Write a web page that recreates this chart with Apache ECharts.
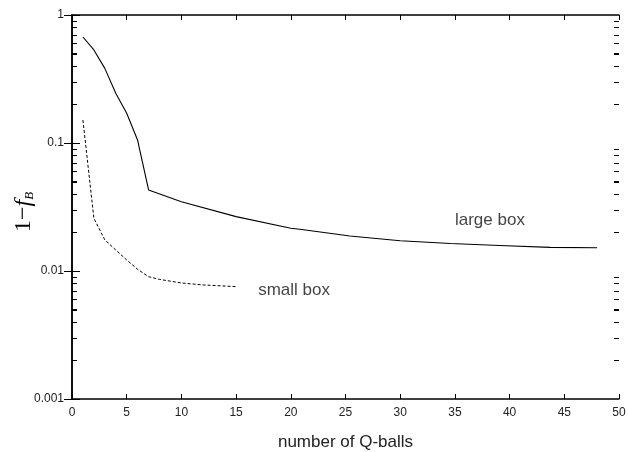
<!DOCTYPE html>
<html><head><meta charset="utf-8">
<script src="https://cdn.jsdelivr.net/npm/echarts@6/dist/echarts.min.js"></script>
<style>html,body{margin:0;padding:0;background:#fff;overflow:hidden}#c{width:628px;height:452px}</style>
</head><body><div id="c"></div>
<script>
var largeX = [1, 2, 3, 4, 5, 6, 7, 10, 15, 20, 21, 25.4, 30, 34.6, 39.1, 43.7, 48];
var largeY = [0.673, 0.533, 0.383, 0.245, 0.171, 0.105, 0.043, 0.0348, 0.0266, 0.0216, 0.0211, 0.01876, 0.01725, 0.0164, 0.0158, 0.0153, 0.0152];
var smallX = [1, 2, 3, 4, 5, 6, 7, 8, 10, 12, 15];
var smallY = [0.151, 0.0258, 0.0175, 0.0146, 0.0122, 0.0103, 0.00903, 0.0086, 0.00806, 0.00778, 0.00755];
var xTicks = [0, 5, 10, 15, 20, 25, 30, 35, 40, 45, 50];
var yTickLabels = ['0.001', '0.01', '0.1', '1'];
var yTickValues = [0.001, 0.01, 0.1, 1];
var minorTicks = [];
[0.001, 0.01, 0.1].forEach(function (d) { for (var k = 2; k <= 9; k++) minorTicks.push(d * k); });

function zip(a, b) { return a.map(function (v, i) { return [v, b[i]]; }); }

var GL = 72, GR = 9, GT = 15, GB = 53, W = 628, H = 452;
var chart = echarts.init(document.getElementById('c'));
var axisLine = { show: true, lineStyle: { color: '#000', width: 1.5 } };
var font = 'Liberation Sans, Arial, sans-serif';
function yFmt(v) {
  for (var i = 0; i < yTickValues.length; i++) if (Math.abs(Math.log10(v) - Math.log10(yTickValues[i])) < 1e-6) return yTickLabels[i];
  return '';
}
function minorAxis(pos) {
  return {
    type: 'log', logBase: 10, min: 0.001, max: 1, interval: 1, position: pos,
    axisLine: { show: false },
    axisTick: { show: true, inside: true, length: 5, customValues: minorTicks, lineStyle: { color: '#000', width: 1 } },
    axisLabel: { show: false }, splitLine: { show: false }
  };
}
chart.setOption({
  animation: false,
  grid: { left: GL, right: GR, top: GT, bottom: GB, show: false, containLabel: false, outerBoundsMode: 'none' },
  xAxis: [{
    type: 'value', min: 0, max: 50, interval: 5, position: 'bottom',
    axisLine: axisLine,
    axisTick: { show: true, inside: true, length: 5, lineStyle: { color: '#000', width: 1 } },
    axisLabel: { color: '#222', fontSize: 12, fontFamily: font, margin: 8 },
    splitLine: { show: false },
    name: 'number of Q-balls', nameLocation: 'middle', nameGap: 35,
    nameTextStyle: { color: '#222', fontSize: 17, fontFamily: font }
  }, {
    type: 'value', min: 0, max: 50, interval: 5, position: 'top',
    axisLine: axisLine,
    axisTick: { show: true, inside: true, length: 5, lineStyle: { color: '#000', width: 1 } },
    axisLabel: { show: false }, splitLine: { show: false }
  }],
  yAxis: [{
    type: 'log', logBase: 10, min: 0.001, max: 1, interval: 1, position: 'left',
    axisLine: axisLine,
    axisTick: { show: true, inside: true, length: 8, interval: 0, lineStyle: { color: '#000', width: 1 } },
    axisLabel: { color: '#222', fontSize: 12, fontFamily: font, margin: 8, interval: 0, formatter: yFmt },
    splitLine: { show: false }
  }, {
    type: 'log', logBase: 10, min: 0.001, max: 1, interval: 1, position: 'right',
    axisLine: axisLine,
    axisTick: { show: true, inside: true, length: 8, interval: 0, lineStyle: { color: '#000', width: 1 } },
    axisLabel: { show: false }, splitLine: { show: false }
  }, minorAxis('left'), minorAxis('right')],
  series: [{
    type: 'line', xAxisIndex: 0, yAxisIndex: 0, data: zip(largeX, largeY), showSymbol: false, symbol: 'none',
    lineStyle: { color: '#000', width: 1.1 }
  }, {
    type: 'line', xAxisIndex: 0, yAxisIndex: 0, data: zip(smallX, smallY), showSymbol: false, symbol: 'none',
    lineStyle: { color: '#000', width: 1, type: [3, 2] }
  }, {
    type: 'scatter', xAxisIndex: 0, yAxisIndex: 0, symbolSize: 0, silent: true,
    data: [{ value: [38.2, 0.025], label: { show: true, formatter: 'large box' } },
           { value: [20.3, 0.0071], label: { show: true, formatter: 'small box' } }],
    label: { show: true, position: 'inside', color: '#111', fontSize: 17, fontFamily: font }
  }]
});

var children = [];
var plotH = H - GT - GB;
minorTicks.forEach(function (v) {
  var py = chart.convertToPixel({ yAxisIndex: 0 }, v);
  if (!isFinite(py)) py = GT + (0 - Math.log10(v)) / 3 * plotH;
  var y = Math.round(py);
  children.push({ type: 'rect', z: 100, shape: { x: GL, y: y, width: 5, height: 1 }, style: { fill: '#000' } });
  children.push({ type: 'rect', z: 100, shape: { x: W - GR - 5, y: y, width: 5, height: 1 }, style: { fill: '#000' } });
});
chart.setOption({ graphic: [{
  type: 'text', x: 24, y: 212, rotation: Math.PI / 2,
  style: {
    text: '{a|1−}{f|f}{s|B}', align: 'center', verticalAlign: 'middle',
    rich: {
      a: { fontFamily: 'Liberation Serif, Times New Roman, serif', fontSize: 24, fill: '#000' },
      f: { fontFamily: 'Liberation Serif, Times New Roman, serif', fontStyle: 'italic', fontSize: 24, fill: '#000' },
      s: { fontFamily: 'Liberation Serif, Times New Roman, serif', fontStyle: 'italic', fontSize: 13, fill: '#000', verticalAlign: 'bottom', padding: [12, 0, 0, 0] }
    }
  }
}, { type: 'group', x: 0, y: 0, z: 100, silent: true, children: children }] });
</script></body></html>
